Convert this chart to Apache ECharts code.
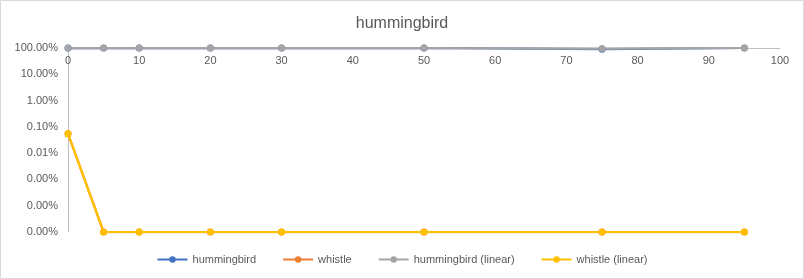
<!DOCTYPE html>
<html><head><meta charset="utf-8">
<script src="https://cdn.jsdelivr.net/npm/echarts@6/dist/echarts.min.js"></script>
<style>html,body{margin:0;padding:0;background:#fff}#c{width:804px;height:279px}</style>
</head><body><div id="c"></div>
<script>
const xValues = [0, 5, 10, 20, 30, 50, 75, 95];
const hummingbird = [1, 1, 1, 1, 1, 1, 0.9, 1];
const whistle = [0.00055, 1e-7, 1e-7, 1e-7, 1e-7, 1e-7, 1e-7, 1e-7];
const hummingbirdLinear = [1, 1, 1, 1, 1, 0.99, 0.95, 1];
const whistleLinear = [0.00055, 1e-7, 1e-7, 1e-7, 1e-7, 1e-7, 1e-7, 1e-7];
const seriesNames = ['hummingbird', 'whistle', 'hummingbird (linear)', 'whistle (linear)'];
const colors = ['#4472c4', '#ed7d31', '#a5a5a5', '#ffc000'];
const dataSets = [hummingbird, whistle, hummingbirdLinear, whistleLinear];

const font = 'Liberation Sans, Arial, sans-serif';
const chart = echarts.init(document.getElementById('c'));
chart.setOption({
  animation: false,
  color: colors,
  title: { text: 'hummingbird', left: 'center', top: 11,
    textStyle: { fontFamily: font, fontSize: 16, fontWeight: 'normal', color: '#595959' } },
  grid: { left: 68, right: 24, top: 48, bottom: 47 },
  legend: { bottom: 9, left: 'center', itemWidth: 30, itemHeight: 8, itemGap: 26,
    textStyle: { fontFamily: font, fontSize: 11, color: '#595959' },
    data: seriesNames },
  xAxis: { type: 'value', position: 'top', min: 0, max: 100, interval: 10,
    axisLine: { show: true, lineStyle: { color: '#bfbfbf', width: 1 } },
    axisTick: { show: false }, splitLine: { show: false },
    axisLabel: { inside: true, margin: 7, fontFamily: font, fontSize: 11, color: '#595959' } },
  yAxis: { type: 'log', logBase: 10, min: 1e-7, max: 1, interval: 1,
    axisLine: { show: true, lineStyle: { color: '#bfbfbf', width: 1 } },
    axisTick: { show: false }, splitLine: { show: false },
    axisLabel: { fontFamily: font, fontSize: 11, color: '#595959', margin: 10,
      formatter: v => (v * 100).toFixed(2) + '%' } },
  series: dataSets.map((d, i) => ({
    name: seriesNames[i], type: 'line',
    data: xValues.map((x, j) => [x, d[j]]),
    symbol: 'circle', symbolSize: 7,
    lineStyle: { width: 2.25, color: colors[i] },
    itemStyle: { color: colors[i] }
  })),
  graphic: [{ type: 'rect', shape: { x: 0.5, y: 0.5, width: 803, height: 278 },
    style: { fill: 'none', stroke: '#d9d9d9', lineWidth: 1 }, silent: true }]
});
</script></body></html>
